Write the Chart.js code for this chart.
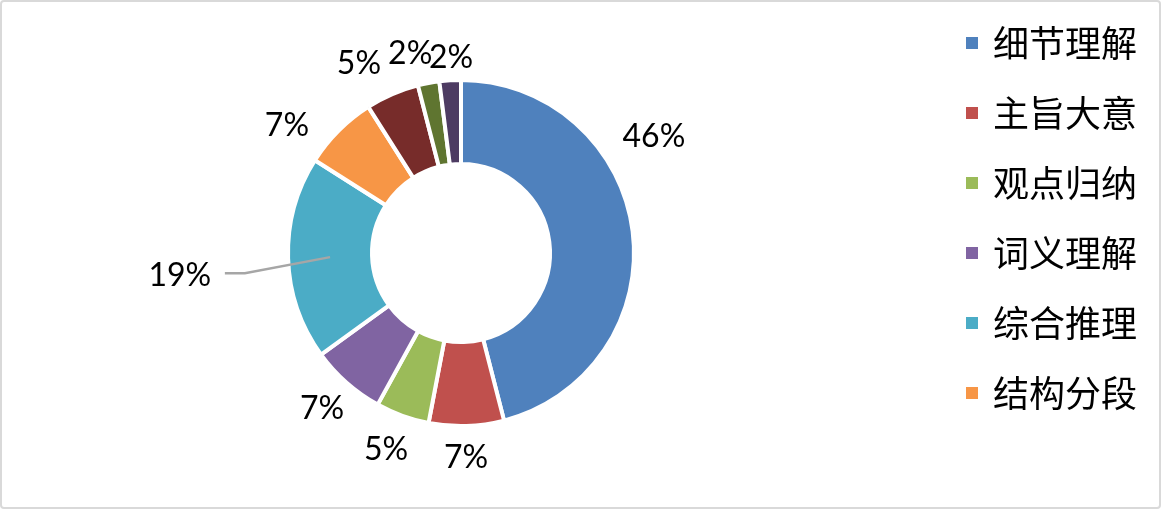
<!DOCTYPE html>
<html>
<head>
<meta charset="utf-8">
<script src="https://cdn.jsdelivr.net/npm/chart.js@4.4.1/dist/chart.umd.min.js"></script>
<style>
  html, body { margin: 0; padding: 0; background: #fff; }
  #box {
    width: 1161px; height: 509px; box-sizing: border-box;
    border: 2px solid #d9d9d9; border-radius: 4px; overflow: hidden;
  }
  canvas { display: block; }
</style>
</head>
<body>
<div id="box"><canvas id="grafico" width="1157" height="505"></canvas></div>
<script>
// categorias (a legenda original so mostra as 6 primeiras)
const categorias = ['细节理解', '主旨大意', '观点归纳', '词义理解', '综合推理', '结构分段', '写作意图', '标题选择', '其他'];
const valores = [46, 7, 5, 7, 19, 7, 5, 2, 2];
const rotulos = ['46%', '7%', '5%', '7%', '19%', '7%', '5%', '2%', '2%'];
const cores = ['#4F81BD', '#C0504D', '#9BBB59', '#8064A2', '#4BACC6', '#F79646', '#772C2A', '#5F7530', '#4D3B62'];
const itensLegenda = 6;

// ajuste dos rotulos: desvio de angulo (graus) e distancia fora do anel (px)
const desvioAngulo = [-24.2, 0.4, 1.1, 0.5, -2.7, -8.7, -4.8, -3.4, 0.7];
const distancia = [55, 33, 39, 37, 111, 45, 45, 36, 26];
const rotuloComLinha = 4;

const BORDA = 4;
const R_EXT = 171 + BORDA / 2;
const R_INT = 91 - BORDA / 2;

const pluginRotulos = {
    id: 'rotulos',
    afterDatasetsDraw(chart) {
        const ctx = chart.ctx;
        const meta = chart.getDatasetMeta(0);
        ctx.save();
        ctx.font = '32px Lato, "Open Sans", sans-serif';
        ctx.fillStyle = '#000';
        ctx.textAlign = 'center';
        ctx.textBaseline = 'middle';
        meta.data.forEach((arc, i) => {
            const p = arc.getProps(['x', 'y', 'startAngle', 'endAngle', 'outerRadius', 'innerRadius'], true);
            const meio = (p.startAngle + p.endAngle) / 2;
            const a = meio + desvioAngulo[i] * Math.PI / 180;
            const rOut = p.outerRadius - BORDA / 2;
            const r = rOut + distancia[i];
            const lx = p.x + Math.cos(a) * r;
            const ly = p.y + Math.sin(a) * r;
            if (i === rotuloComLinha) {
                const rMeio = (p.outerRadius + p.innerRadius) / 2;
                ctx.beginPath();
                ctx.strokeStyle = '#A6A6A6';
                ctx.lineWidth = 2.5;
                ctx.moveTo(p.x + Math.cos(meio) * rMeio, p.y + Math.sin(meio) * rMeio);
                ctx.lineTo(lx + 65, ly - 2);
                ctx.lineTo(lx + 45, ly - 2);
                ctx.stroke();
            }
            ctx.fillText(rotulos[i], lx, ly + 1);
        });
        ctx.restore();
    }
};

const pluginLegenda = {
    id: 'legendaExcel',
    afterDraw(chart) {
        const ctx = chart.ctx;
        ctx.save();
        ctx.font = '36px "Noto Sans CJK SC", sans-serif';
        ctx.textBaseline = 'middle';
        for (let i = 0; i < itensLegenda; i++) {
            const y = 41 + i * 70;
            ctx.fillStyle = cores[i];
            ctx.fillRect(964, y - 6, 12, 12);
            ctx.fillStyle = '#000';
            ctx.fillText(categorias[i], 991, y);
        }
        ctx.restore();
    }
};

new Chart(document.getElementById('grafico'), {
    type: 'doughnut',
    data: {
        labels: categorias,
        datasets: [{
            data: valores,
            backgroundColor: cores,
            borderColor: '#fff',
            borderWidth: BORDA
        }]
    },
    options: {
        responsive: false,
        animation: false,
        radius: R_EXT,
        cutout: (R_INT / R_EXT * 100) + '%',
        layout: { padding: { left: 0, top: 0, right: 239, bottom: 3 } },
        plugins: {
            legend: { display: false },
            tooltip: { enabled: false }
        }
    },
    plugins: [pluginRotulos, pluginLegenda]
});
</script>
</body>
</html>
